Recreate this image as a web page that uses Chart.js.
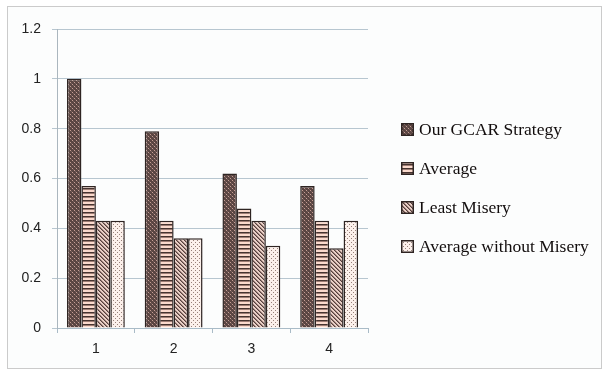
<!DOCTYPE html>
<html>
<head>
<meta charset="utf-8">
<script src="https://cdn.jsdelivr.net/npm/chart.js@4/dist/chart.umd.min.js"></script>
<style>
  html, body { margin: 0; padding: 0; background: #ffffff; }
  body { width: 606px; height: 369px; position: relative; overflow: hidden; }
  #frame {
    position: absolute; left: 7px; top: 6px; width: 593px; height: 361px;
    border: 1px solid #cbcbcb; background: #fcfdfd;
  }
  #c { position: absolute; left: 0; top: 0; }
</style>
</head>
<body>
<div id="frame"></div>
<canvas id="c" width="606" height="369"></canvas>
<script>
// Categories (groups) and the four strategies compared
const categories = ['1', '2', '3', '4'];
const seriesNames = ['Our GCAR Strategy', 'Average', 'Least Misery', 'Average without Misery'];
const gcarValues = [1.0, 0.79, 0.62, 0.57];
const averageValues = [0.57, 0.43, 0.48, 0.43];
const leastMiseryValues = [0.43, 0.36, 0.43, 0.32];
const avgNoMiseryValues = [0.43, 0.36, 0.33, 0.43];
const yTickLabels = ['0', '0.2', '0.4', '0.6', '0.8', '1', '1.2'];

// Small tiled fills for each series
function makePattern(w, h, paint) {
  const cv = document.createElement('canvas');
  cv.width = w; cv.height = h;
  const g = cv.getContext('2d');
  paint(g);
  return g.createPattern(cv, 'repeat');
}
function px(g, color, x, y) { g.fillStyle = color; g.fillRect(x, y, 1, 1); }

const ctx = document.getElementById('c').getContext('2d');

// Dark brown with a lattice of pink dots
const gcarFill = makePattern(4, 4, g => {
  g.fillStyle = '#5a4542'; g.fillRect(0, 0, 4, 4);
  px(g, '#c59e95', 0, 0); px(g, '#c59e95', 2, 2);
  px(g, '#76605c', 1, 1); px(g, '#76605c', 3, 3);
});
// Horizontal stripes
const averageFill = makePattern(4, 4, g => {
  g.fillStyle = '#fad9cc'; g.fillRect(0, 0, 4, 4);
  g.fillStyle = '#45332f'; g.fillRect(0, 0, 4, 1);
  g.fillStyle = '#9c7c73'; g.fillRect(0, 1, 4, 1);
});
// Diagonal stripes running down to the right
const leastMiseryFill = makePattern(4, 4, g => {
  g.fillStyle = '#ead0c7'; g.fillRect(0, 0, 4, 4);
  for (let i = 0; i < 4; i++) {
    px(g, '#54403d', i, i);
    px(g, '#9c7f78', (i + 1) % 4, i);
  }
});
// Pale fill with sparse dark dots
const avgNoMiseryFill = makePattern(4, 4, g => {
  g.fillStyle = '#fcf0eb'; g.fillRect(0, 0, 4, 4);
  px(g, '#978079', 1, 0); px(g, '#978079', 3, 2);
});

const fills = [gcarFill, averageFill, leastMiseryFill, avgNoMiseryFill];
const seriesValues = [gcarValues, averageValues, leastMiseryValues, avgNoMiseryValues];

// Legend drawn in the right margin, one row per series
const sideLegend = {
  id: 'sideLegend',
  afterDraw(chart, args, opts) {
    const c = chart.ctx;
    c.save();
    c.font = opts.font;
    c.textBaseline = 'middle';
    c.textAlign = 'left';
    chart.data.datasets.forEach((ds, i) => {
      const cy = opts.y + i * opts.spacing;
      const bx = opts.x, by = Math.round(cy - opts.box / 2);
      c.fillStyle = ds.backgroundColor;
      c.fillRect(bx, by, opts.box, opts.box);
      c.strokeStyle = '#2e2422';
      c.lineWidth = 1.5;
      c.strokeRect(bx + 0.75, by + 0.75, opts.box - 1.5, opts.box - 1.5);
      c.fillStyle = '#120d0d';
      c.fillText(ds.label, opts.textX, cy + 1);
    });
    c.restore();
  }
};

new Chart(ctx, {
  type: 'bar',
  data: {
    labels: categories,
    datasets: seriesNames.map((name, i) => ({
      label: name,
      data: seriesValues[i],
      backgroundColor: fills[i],
      borderColor: '#2e2422',
      borderWidth: 1.5,
      borderSkipped: 'bottom',
      categoryPercentage: 0.744,
      barPercentage: 1.0
    }))
  },
  options: {
    responsive: false,
    animation: false,
    devicePixelRatio: 1,
    layout: { padding: { left: 10, top: 29, right: 238, bottom: 10 } },
    plugins: {
      legend: { display: false },
      tooltip: { enabled: false },
      sideLegend: {
        x: 401, textX: 419, y: 129, spacing: 39, box: 13,
        font: '17.5px "Liberation Serif", "Times New Roman", serif'
      }
    },
    scales: {
      x: {
        afterFit(scale) { scale.height = 31; },
        grid: {
          offset: true, drawOnChartArea: false, drawTicks: true,
          tickLength: 5, color: '#a9bbc7'
        },
        border: { color: '#a9bbc7', width: 1 },
        ticks: {
          padding: 8, color: '#222222',
          font: { family: '"Liberation Sans", Arial, sans-serif', size: 14 }
        }
      },
      y: {
        min: 0, max: 1.2,
        afterFit(scale) { scale.width = 47; },
        grid: { color: '#b7c6d0', tickLength: 5, drawTicks: true },
        border: { color: '#aab6be', width: 1 },
        ticks: {
          stepSize: 0.2, padding: 11, color: '#222222',
          font: { family: '"Liberation Sans", Arial, sans-serif', size: 14 },
          callback: (v, i) => yTickLabels[i]
        }
      }
    }
  },
  plugins: [sideLegend]
});
</script>
</body>
</html>
